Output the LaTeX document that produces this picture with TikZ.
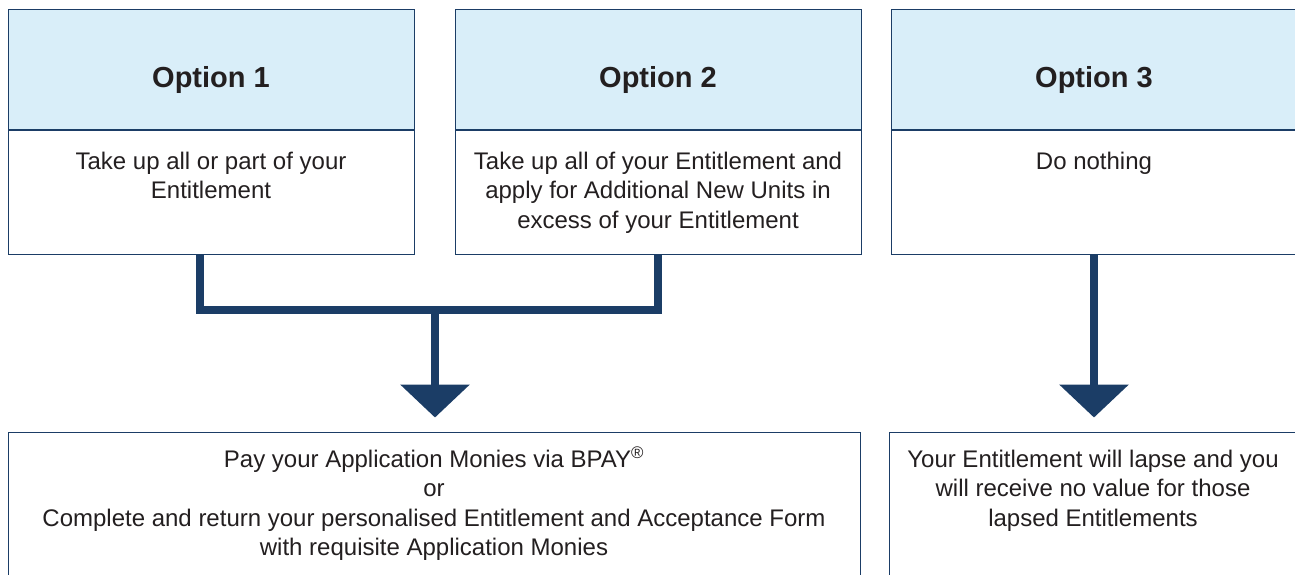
\documentclass[tikz,border=0pt]{standalone}
\usepackage{fontspec}
\setmainfont{Liberation Sans}
\usetikzlibrary{arrows.meta,positioning}
\definecolor{navy}{HTML}{1B3D66}
\definecolor{headblue}{HTML}{D9EEF9}
\definecolor{ink}{HTML}{231F20}
\begin{document}
\begin{tikzpicture}[x=1pt,y=-1pt,
    head/.style={draw=navy, line width=1pt, fill=headblue, minimum width=406pt, minimum height=120pt, inner sep=0pt, text height=42pt, text depth=6pt, text=ink, font=\bfseries\fontsize{29}{34}\selectfont},
    panel/.style={draw=navy, line width=1pt, fill=white, minimum width=406pt, minimum height=124pt, inner sep=0pt},
    txt/.style={align=center, inner sep=0pt, text=ink, font=\fontsize{24}{29.5}\selectfont},
    link/.style={draw=navy, line width=7.5pt},
    tip/.style={-{Triangle[width=68pt,length=33pt]}, shorten >=14pt}]
    \useasboundingbox (0,0) rectangle (1295,574);
    \clip (0,0) rectangle (1295,574);
    % option headers
    \node[head] (h1) at (211,69) {Option 1};
    \node[head] (h2) at (658,69) {Option 2};
    \node[head] (h3) at (1094,69) {Option 3};
    \node[panel, below=0pt of h1] (b1) {};
    \node[panel, below=0pt of h2] (b2) {};
    \node[panel, below=0pt of h3] (b3) {};
    \node[txt, below=22pt of b1.north] (t1) {Take up all or part of your\\Entitlement};
    \node[txt, below=22pt of b2.north] (t2) {Take up all of your Entitlement and\\apply for Additional New Units in\\excess of your Entitlement};
    \node[txt, below=22pt of b3.north] (t3) {Do nothing};
    % outcomes
    \node[panel, minimum width=852pt, minimum height=200pt] (pay) at (434,532) {};
    \node[panel, minimum width=408pt, minimum height=200pt] (lapse) at (1093,532) {};
    \node[txt, below=18pt of pay.north] (t4) {Pay your Application Monies via BPAY\smash{\textsuperscript{\textregistered}}\\or\\Complete and return your personalised Entitlement and Acceptance Form\\with requisite Application Monies};
    \node[txt, below=18pt of lapse.north] (t5) {Your Entitlement will lapse and you\\will receive no value for those\\lapsed Entitlements};
    % connectors
    \coordinate (merge) at (435,310);
    \draw[link] ([xshift=-11pt]b1.south) |- (merge) -| (b2.south);
    \draw[link, tip] (merge) -- (pay.north -| merge);
    \draw[link, tip] (b3.south) -- (lapse.north -| b3.south);
\end{tikzpicture}
\end{document}
